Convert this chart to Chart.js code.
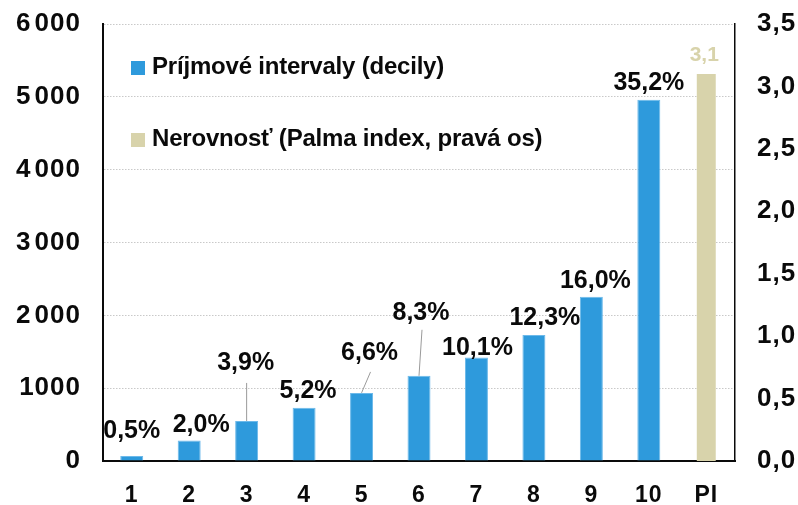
<!DOCTYPE html>
<html>
<head>
<meta charset="utf-8">
<script src="https://cdn.jsdelivr.net/npm/chart.js@4.4.0/dist/chart.umd.min.js"></script>
<style>
  html, body { margin: 0; padding: 0; background: #fff; }
  #wrap { width: 798px; height: 505px; }
</style>
</head>
<body>
<div id="wrap"><canvas id="chart"></canvas></div>
<script>
const categories = ["1", "2", "3", "4", "5", "6", "7", "8", "9", "10", "PI"];
const decileIncome = [70, 280, 550, 730, 935, 1170, 1420, 1730, 2255, 4960, null];
const decileShare = [0.5, 2.0, 3.9, 5.2, 6.6, 8.3, 10.1, 12.3, 16.0, 35.2];
const palmaIndex = [null, null, null, null, null, null, null, null, null, null, 3.1];
const leftTicks = ["0", "1000", "2\u200A000", "3\u200A000", "4\u200A000", "5\u200A000", "6\u200A000"];
const rightTicks = ["0,0", "0,5", "1,0", "1,5", "2,0", "2,5", "3,0", "3,5"];
const seriesNames = ["Príjmové intervaly (decily)", "Nerovnosť (Palma index, pravá os)"];

const BLUE = "#2e9adc",
  BEIGE = "#d8d3ab",
  INK = "#0a0a0a",
  FONT = "'Liberation Sans', Arial, sans-serif";

// where each value label sits relative to the top of its bar; line = leader start
const labelPos = [
  { dx: 0, dy: -18 },
  { dx: 12, dy: -9 },
  { dx: -1, dy: -51, line: [0, -38] },
  { dx: 4, dy: -10 },
  { dx: 8, dy: -33, line: [9, -21] },
  { dx: 2, dy: -56, line: [3, -46] },
  { dx: 1, dy: -3 },
  { dx: 11, dy: -10 },
  { dx: 4, dy: -9 },
  { dx: 0, dy: -10 },
  { dx: -2, dy: -13 },
];

const fmt = (v, d) => v.toFixed(d).replace(".", ",");

// axis numbers are set a bit looser than the default
const tickSpacing = {
  id: "tickSpacing",
  beforeDraw(chart) {
    chart.ctx.letterSpacing = "1px";
  },
  afterDraw(chart) {
    chart.ctx.letterSpacing = "0px";
  },
};

const valueLabels = {
  id: "valueLabels",
  afterDatasetsDraw(chart) {
    const ctx = chart.ctx;
    ctx.save();
    ctx.letterSpacing = "0px";
    ctx.textAlign = "center";
    ctx.textBaseline = "alphabetic";
    chart.getDatasetMeta(0).data.forEach((bar, i) => {
      if (decileIncome[i] == null) return;
      const p = labelPos[i];
      if (p.line) {
        ctx.strokeStyle = "#9a9a9a";
        ctx.lineWidth = 1;
        ctx.beginPath();
        ctx.moveTo(bar.x + p.line[0], bar.y + p.line[1]);
        ctx.lineTo(bar.x, bar.y);
        ctx.stroke();
      }
      ctx.fillStyle = INK;
      ctx.font = "bold 25px " + FONT;
      ctx.fillText(fmt(decileShare[i], 1) + "%", bar.x + p.dx, bar.y + p.dy);
    });
    chart.getDatasetMeta(1).data.forEach((bar, i) => {
      if (palmaIndex[i] == null) return;
      const p = labelPos[i];
      ctx.fillStyle = BEIGE;
      ctx.font = "bold 21px " + FONT;
      ctx.fillText(fmt(palmaIndex[i], 1), bar.x + p.dx, bar.y + p.dy);
    });
    ctx.restore();
  },
};

// legend sits inside the plot, top left
const innerLegend = {
  id: "innerLegend",
  afterDraw(chart) {
    const ctx = chart.ctx,
      a = chart.chartArea;
    ctx.save();
    ctx.font = "bold 24px " + FONT;
    ctx.letterSpacing = "-0.2px";
    ctx.textBaseline = "alphabetic";
    [BLUE, BEIGE].forEach((c, i) => {
      const y = a.top + 37 + i * 72;
      ctx.fillStyle = c;
      ctx.fillRect(a.left + 28, y, 14, 14);
      ctx.fillStyle = INK;
      ctx.fillText(seriesNames[i], a.left + 49, y + 13);
    });
    ctx.restore();
  },
};

const noPad = (s) => {
  s.paddingTop = 0;
  s.paddingBottom = 0;
};

new Chart(document.getElementById("chart"), {
  type: "bar",
  data: {
    labels: categories,
    datasets: [
      {
        label: seriesNames[0],
        data: decileIncome,
        backgroundColor: BLUE,
        borderColor: "#6cb9ea",
        borderWidth: 1,
        barPercentage: 0.4,
        categoryPercentage: 1,
        grouped: false,
        yAxisID: "y",
      },
      {
        label: seriesNames[1],
        data: palmaIndex,
        backgroundColor: BEIGE,
        barPercentage: 0.33,
        categoryPercentage: 1,
        grouped: false,
        yAxisID: "y1",
      },
    ],
  },
  options: {
    responsive: true,
    maintainAspectRatio: false,
    animation: false,
    layout: { padding: { top: 24, left: 0, right: 0, bottom: 0 } },
    plugins: { legend: { display: false }, tooltip: { enabled: false } },
    scales: {
      x: {
        grid: { display: false, drawTicks: false },
        border: { color: INK, width: 2 },
        ticks: { color: INK, padding: 21, font: { family: FONT, size: 23, weight: "bold" } },
        afterFit: (s) => {
          s.height = 44;
          s.paddingLeft = 0;
          s.paddingRight = 0;
        },
      },
      y: {
        position: "left",
        min: 0,
        max: 6000,
        ticks: {
          stepSize: 1000,
          color: INK,
          padding: 22,
          font: { family: FONT, size: 26, weight: "bold" },
          callback: (v, i) => leftTicks[i],
        },
        grid: { color: "#c9c9c9", lineWidth: 1, drawTicks: false },
        border: { color: INK, width: 2, dash: [1.5, 1.5] },
        afterFit: (s) => {
          s.width = 103;
          noPad(s);
        },
      },
      y1: {
        position: "right",
        min: 0,
        max: 3.5,
        ticks: {
          stepSize: 0.5,
          color: INK,
          padding: 22,
          font: { family: FONT, size: 26, weight: "bold" },
          callback: (v, i) => rightTicks[i],
        },
        grid: { display: false, drawTicks: false },
        border: { color: INK, width: 1.5 },
        afterFit: (s) => {
          s.width = 63;
          noPad(s);
        },
      },
    },
  },
  plugins: [tickSpacing, valueLabels, innerLegend],
});
</script>
</body>
</html>
